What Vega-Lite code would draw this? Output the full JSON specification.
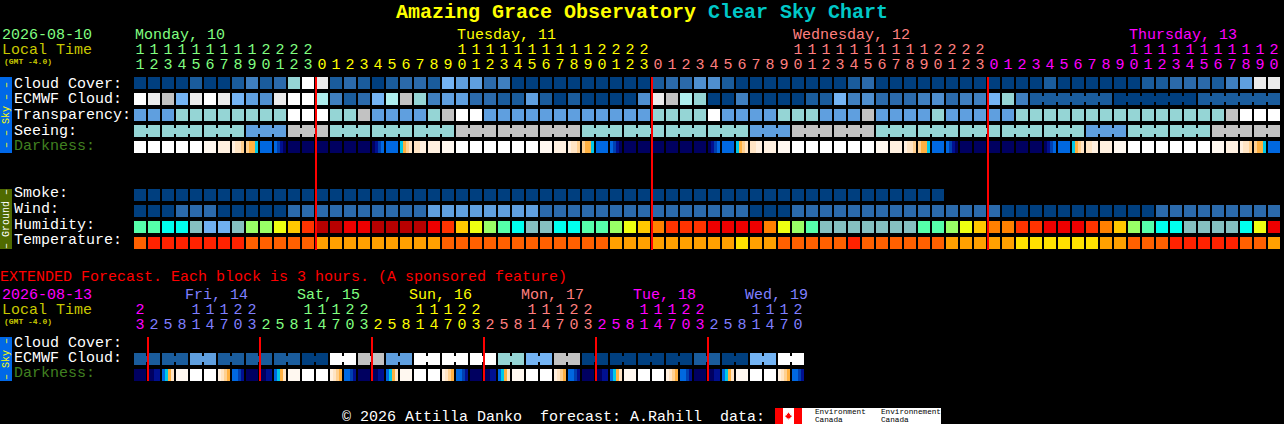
{
"$schema":"https://vega.github.io/schema/vega-lite/v6.json",
"width":1284,"height":424,"padding":0,"background":"#000000",
"autosize":{"type":"fit","contains":"padding"},
"config":{"view":{"stroke":null},"text":{"font":"Liberation Mono","fontSize":15,"align":"left","baseline":"middle"}},
"encoding":{
"x":{"field":"slot","type":"ordinal","axis":null,"scale":{"domain":[-10,-9,-8,-7,-6,-5,-4,-3,-2,-1,0,1,2,3,4,5,6,7,8,9,10,11,12,13,14,15,16,17,18,19,20,21,22,23,24,25,26,27,28,29,30,31,32,33,34,35,36,37,38,39,40,41,42,43,44,45,46,47,48,49,50,51,52,53,54,55,56,57,58,59,60,61,62,63,64,65,66,67,68,69,70,71,72,73,74,75,76,77,78,79,80,81],"range":[-6,1280],"paddingInner":0.142857,"paddingOuter":0}},
"color":{"field":"tone","type":"nominal","legend":null,"scale":{
"domain":["c0","c1","c2","c3","c4","c5","c6","c7","c8","c9","c10","c11","d0","d1","d2","d3","d4","d5","d6","d7","d8","d9","d10","hA","hB","hC","hD","hE","hF","hG","hH","hI","hJ","hK","tO","tP","tR","tY","green","yellow","salmon","magenta","violet","white","local","cyan","red","black","sky","ground","dim"],
"range":["#003f7f","#1a5c9c","#2b6aab","#3f7fbf","#4f8fcf","#5f9fdf","#74b4f4","#95d5d5","#aeeeee","#c2c2c2","#ebebeb","#ffffff","#ffffff","#fff8f0","#fff0e0","#ffe4c4","#ffd090","#ffb040","#00c8e8","#0068e0","#0040b0","#001090","#000060","#70b0f0","#85c0c0","#00ffee","#55ffaa","#99ff66","#eeff11","#ffc800","#ff8000","#ff3300","#ee0000","#b80000","#ffa000","#ff6000","#ff2200","#ffe000","#80ff80","#ffff00","#ff7f7f","#ff00ff","#7f7fff","#ffffff","#c8c800","#00c8c8","#ff0000","#000000","#0068e8","#4f6a00","#408020"]}}
},
"resolve":{"scale":{"y":"independent"}},
"layer":[
{"data":{"values":[{"slot":-10,"tone":"sky"}]},"mark":{"type":"rect","xOffset":6},"encoding":{"y":{"datum":"Sky","type":"nominal","axis":null,"scale":{"domain":["Sky"],"range":[77,153],"paddingInner":0,"paddingOuter":0}}}},
{"data":{"values":[{"slot":-10,"tone":"yellow","text":"– – Sky – –"}]},"mark":{"type":"text","xOffset":6,"angle":270,"align":"center","fontSize":10},"encoding":{"text":{"field":"text"},"y":{"datum":"Sky","type":"nominal","axis":null,"scale":{"domain":["Sky"],"range":[77,153],"paddingInner":0,"paddingOuter":0}}}},
{"data":{"values":[{"slot":-10,"tone":"ground"}]},"mark":{"type":"rect","xOffset":6},"encoding":{"y":{"datum":"Ground","type":"nominal","axis":null,"scale":{"domain":["Ground"],"range":[189,249],"paddingInner":0,"paddingOuter":0}}}},
{"data":{"values":[{"slot":-10,"tone":"white","text":"– Ground –"}]},"mark":{"type":"text","xOffset":6,"angle":270,"align":"center","fontSize":10},"encoding":{"text":{"field":"text"},"y":{"datum":"Ground","type":"nominal","axis":null,"scale":{"domain":["Ground"],"range":[189,249],"paddingInner":0,"paddingOuter":0}}}},
{"data":{"values":[{"slot":-10,"tone":"sky"}]},"mark":{"type":"rect","xOffset":6},"encoding":{"y":{"datum":"Sky","type":"nominal","axis":null,"scale":{"domain":["Sky"],"range":[337,381],"paddingInner":0,"paddingOuter":0}}}},
{"data":{"values":[{"slot":-10,"tone":"yellow","text":"– Sky –"}]},"mark":{"type":"text","xOffset":6,"angle":270,"align":"center","fontSize":10},"encoding":{"text":{"field":"text"},"y":{"datum":"Sky","type":"nominal","axis":null,"scale":{"domain":["Sky"],"range":[337,381],"paddingInner":0,"paddingOuter":0}}}},
{"data":{"values":[{"slot":18,"tone":"yellow","text":"Amazing Grace Observatory"}]},"mark":{"type":"text","fontSize":20,"fontWeight":"bold","xOffset":4},"encoding":{"text":{"field":"text"},"y":{"datum":"title","type":"nominal","axis":null,"scale":{"domain":["title"],"range":[1,23],"paddingInner":0,"paddingOuter":0}}}},
{"data":{"values":[{"slot":41,"tone":"cyan","text":"Clear Sky Chart"}]},"mark":{"type":"text","fontSize":20,"fontWeight":"bold","xOffset":-6},"encoding":{"text":{"field":"text"},"y":{"datum":"title","type":"nominal","axis":null,"scale":{"domain":["title"],"range":[1,23],"paddingInner":0,"paddingOuter":0}}}},
{"data":{"values":[{"slot":-10,"line":"date","text":"2026-08-10","tone":"green"},{"slot":-10,"line":"tens","text":"Local Time","tone":"local"}]},"mark":{"type":"text","xOffset":2,"dy":-1},"encoding":{"text":{"field":"text"},"y":{"field":"line","type":"nominal","axis":null,"scale":{"domain":["date","tens","units"],"range":[27.5,72.5],"paddingInner":0,"paddingOuter":0}}}},
{"data":{"values":[{"slot":-10,"line":"units","text":"(GMT -4.0)","tone":"local"}]},"mark":{"type":"text","xOffset":4,"dy":-3,"fontSize":8,"fontWeight":"bold"},"encoding":{"text":{"field":"text"},"y":{"field":"line","type":"nominal","axis":null,"scale":{"domain":["date","tens","units"],"range":[27.5,72.5],"paddingInner":0,"paddingOuter":0}}}},
{"data":{"values":[{"slot":0,"line":"date","text":"Monday, 10","tone":"green"},{"slot":23,"line":"date","text":"Tuesday, 11","tone":"yellow"},{"slot":47,"line":"date","text":"Wednesday, 12","tone":"salmon"},{"slot":71,"line":"date","text":"Thursday, 13","tone":"magenta"}]},"mark":{"type":"text","xOffset":-5,"dy":-1},"encoding":{"text":{"field":"text"},"y":{"field":"line","type":"nominal","axis":null,"scale":{"domain":["date","tens","units"],"range":[27.5,72.5],"paddingInner":0,"paddingOuter":0}}}},
{"data":{"name":"hours"},"transform":[{"filter":"datum.tens"}],"mark":{"type":"text","align":"center","dy":-1},"encoding":{"text":{"field":"tens"},"y":{"datum":"tens","type":"nominal","axis":null,"scale":{"domain":["date","tens","units"],"range":[27.5,72.5],"paddingInner":0,"paddingOuter":0}}}},
{"data":{"name":"hours"},"mark":{"type":"text","align":"center","dy":-1},"encoding":{"text":{"field":"units"},"y":{"datum":"units","type":"nominal","axis":null,"scale":{"domain":["date","tens","units"],"range":[27.5,72.5],"paddingInner":0,"paddingOuter":0}}}},
{"data":{"values":[{"slot":-10,"row":"Cloud","text":"Cloud Cover:","tone":"white"},{"slot":-10,"row":"ECMWF","text":"ECMWF Cloud:","tone":"white"},{"slot":-10,"row":"Transp","text":"Transparency:","tone":"white"},{"slot":-10,"row":"Seeing","text":"Seeing:","tone":"white"},{"slot":-10,"row":"Dark","text":"Darkness:","tone":"dim"},{"slot":-10,"row":"Smoke","text":"Smoke:","tone":"white"},{"slot":-10,"row":"Wind","text":"Wind:","tone":"white"},{"slot":-10,"row":"Humid","text":"Humidity:","tone":"white"},{"slot":-10,"row":"Temp","text":"Temperature:","tone":"white"}]},"mark":{"type":"text","xOffset":14,"dy":-2},"encoding":{"text":{"field":"text"},"y":{"field":"row","type":"nominal","axis":null,"scale":{"domain":["Cloud","ECMWF","Transp","Seeing","Dark","gap1","gap2","Smoke","Wind","Humid","Temp"],"range":[77,249],"paddingInner":0.25,"paddingOuter":0}}}},
{"data":{"name":"cells"},"mark":"rect","encoding":{"y":{"field":"row","type":"nominal","axis":null,"scale":{"domain":["Cloud","ECMWF","Transp","Seeing","Dark","gap1","gap2","Smoke","Wind","Humid","Temp"],"range":[77,249],"paddingInner":0.25,"paddingOuter":0}}}},
{"data":{"name":"cells"},"transform":[{"filter":"datum.joined"}],"mark":{"type":"rect","width":2,"height":6,"xOffset":7},"encoding":{"y":{"field":"row","type":"nominal","axis":null,"scale":{"domain":["Cloud","ECMWF","Transp","Seeing","Dark","gap1","gap2","Smoke","Wind","Humid","Temp"],"range":[77,249],"paddingInner":0.25,"paddingOuter":0}}}},
{"data":{"name":"strips"},"mark":"rect","encoding":{"xOffset":{"field":"part","type":"ordinal","scale":{"paddingInner":0,"paddingOuter":0}},"y":{"datum":"Dark","type":"nominal","axis":null,"scale":{"domain":["Cloud","ECMWF","Transp","Seeing","Dark","gap1","gap2","Smoke","Wind","Humid","Temp"],"range":[77,249],"paddingInner":0.25,"paddingOuter":0}}}},
{"data":{"values":[{"slot":13,"tone":"red"},{"slot":37,"tone":"red"},{"slot":61,"tone":"red"}]},"mark":{"type":"rule","strokeWidth":2,"xOffset":-6},"encoding":{"y":{"datum":0,"type":"quantitative","axis":null,"scale":{"domain":[0,1],"range":[77,250]}},"y2":{"datum":1}}},
{"data":{"values":[{"slot":-10,"line":"note","text":"EXTENDED Forecast. Each block is 3 hours. (A sponsored feature)","tone":"red"}]},"mark":{"type":"text","dy":-4},"encoding":{"text":{"field":"text"},"y":{"field":"line","type":"nominal","axis":null,"scale":{"domain":["note","date","tens","units"],"range":[272.5,332.5],"paddingInner":0,"paddingOuter":0}}}},
{"data":{"values":[{"slot":-10,"line":"date","text":"2026-08-13","tone":"magenta"},{"slot":-10,"line":"tens","text":"Local Time","tone":"local"}]},"mark":{"type":"text","xOffset":2,"dy":-1},"encoding":{"text":{"field":"text"},"y":{"field":"line","type":"nominal","axis":null,"scale":{"domain":["note","date","tens","units"],"range":[272.5,332.5],"paddingInner":0,"paddingOuter":0}}}},
{"data":{"values":[{"slot":-10,"line":"units","text":"(GMT -4.0)","tone":"local"}]},"mark":{"type":"text","xOffset":4,"dy":-3,"fontSize":8,"fontWeight":"bold"},"encoding":{"text":{"field":"text"},"y":{"field":"line","type":"nominal","axis":null,"scale":{"domain":["note","date","tens","units"],"range":[272.5,332.5],"paddingInner":0,"paddingOuter":0}}}},
{"data":{"values":[{"slot":4,"line":"date","text":"Fri, 14","tone":"violet"},{"slot":12,"line":"date","text":"Sat, 15","tone":"green"},{"slot":20,"line":"date","text":"Sun, 16","tone":"yellow"},{"slot":28,"line":"date","text":"Mon, 17","tone":"salmon"},{"slot":36,"line":"date","text":"Tue, 18","tone":"magenta"},{"slot":44,"line":"date","text":"Wed, 19","tone":"violet"}]},"mark":{"type":"text","xOffset":-11,"dy":-1},"encoding":{"text":{"field":"text"},"y":{"field":"line","type":"nominal","axis":null,"scale":{"domain":["note","date","tens","units"],"range":[272.5,332.5],"paddingInner":0,"paddingOuter":0}}}},
{"data":{"name":"extHours"},"transform":[{"filter":"datum.tens"}],"mark":{"type":"text","align":"center","dy":-1},"encoding":{"text":{"field":"tens"},"y":{"datum":"tens","type":"nominal","axis":null,"scale":{"domain":["note","date","tens","units"],"range":[272.5,332.5],"paddingInner":0,"paddingOuter":0}}}},
{"data":{"name":"extHours"},"mark":{"type":"text","align":"center","dy":-1},"encoding":{"text":{"field":"units"},"y":{"datum":"units","type":"nominal","axis":null,"scale":{"domain":["note","date","tens","units"],"range":[272.5,332.5],"paddingInner":0,"paddingOuter":0}}}},
{"data":{"values":[{"slot":-10,"row":"Cloud","text":"Cloud Cover:","tone":"white"},{"slot":-10,"row":"ECMWF","text":"ECMWF Cloud:","tone":"white"},{"slot":-10,"row":"Dark","text":"Darkness:","tone":"dim"}]},"mark":{"type":"text","xOffset":14,"dy":-2},"encoding":{"text":{"field":"text"},"y":{"field":"row","type":"nominal","axis":null,"scale":{"domain":["Cloud","ECMWF","Dark"],"range":[337,381],"paddingInner":0.25,"paddingOuter":0}}}},
{"data":{"name":"extCells"},"mark":"rect","encoding":{"y":{"field":"row","type":"nominal","axis":null,"scale":{"domain":["Cloud","ECMWF","Dark"],"range":[337,381],"paddingInner":0.25,"paddingOuter":0}}}},
{"data":{"name":"extCells"},"transform":[{"filter":"datum.joined"}],"mark":{"type":"rect","width":2,"height":6,"xOffset":7},"encoding":{"y":{"field":"row","type":"nominal","axis":null,"scale":{"domain":["Cloud","ECMWF","Dark"],"range":[337,381],"paddingInner":0.25,"paddingOuter":0}}}},
{"data":{"name":"extStrips"},"mark":"rect","encoding":{"xOffset":{"field":"part","type":"ordinal","scale":{"paddingInner":0,"paddingOuter":0}},"y":{"datum":"Dark","type":"nominal","axis":null,"scale":{"domain":["Cloud","ECMWF","Dark"],"range":[337,381],"paddingInner":0.25,"paddingOuter":0}}}},
{"data":{"values":[{"slot":1,"tone":"red"},{"slot":9,"tone":"red"},{"slot":17,"tone":"red"},{"slot":25,"tone":"red"},{"slot":33,"tone":"red"},{"slot":41,"tone":"red"}]},"mark":{"type":"rule","strokeWidth":2,"xOffset":-6},"encoding":{"y":{"datum":0,"type":"quantitative","axis":null,"scale":{"domain":[0,1],"range":[337,381]}},"y2":{"datum":1}}},
{"data":{"values":[{"slot":14,"text":"© 2026 Attilla Danko\u00a0\u00a0forecast: A.Rahill\u00a0\u00a0data:","tone":"white"}]},"mark":{"type":"text","xOffset":6},"encoding":{"text":{"field":"text"},"y":{"datum":"footer","type":"nominal","axis":null,"scale":{"domain":["footer"],"range":[408,424],"paddingInner":0,"paddingOuter":0}}}},
{"data":{"values":[{"slot":51,"tone":"white"}]},"mark":{"type":"rect","width":166,"xOffset":4},"encoding":{"y":{"datum":"footer","type":"nominal","axis":null,"scale":{"domain":["footer"],"range":[408,424],"paddingInner":0,"paddingOuter":0}}}},
{"data":{"values":[{"slot":46,"tone":"red"}]},"mark":{"type":"rect","width":8,"xOffset":-5},"encoding":{"y":{"datum":"footer","type":"nominal","axis":null,"scale":{"domain":["footer"],"range":[408,424],"paddingInner":0,"paddingOuter":0}}}},
{"data":{"values":[{"slot":47,"tone":"red"}]},"mark":{"type":"rect","width":8},"encoding":{"y":{"datum":"footer","type":"nominal","axis":null,"scale":{"domain":["footer"],"range":[408,424],"paddingInner":0,"paddingOuter":0}}}},
{"data":{"values":[{"slot":46,"tone":"red"}]},"mark":{"type":"point","filled":true,"opacity":1,"xOffset":4.5,"size":60,"shape":"M0,-1 L0.2,-0.5 L0.45,-0.65 L0.35,-0.15 L0.8,-0.3 L0.65,0 L0.9,0.15 L0.4,0.45 L0.45,0.65 L0.05,0.55 L0.05,1 L-0.05,1 L-0.05,0.55 L-0.45,0.65 L-0.4,0.45 L-0.9,0.15 L-0.65,0 L-0.8,-0.3 L-0.35,-0.15 L-0.45,-0.65 L-0.2,-0.5 Z"},"encoding":{"y":{"datum":"footer","type":"nominal","axis":null,"scale":{"domain":["footer"],"range":[408,424],"paddingInner":0,"paddingOuter":0}}}},
{"data":{"values":[{"slot":48,"line":"a","text":"Environment","tone":"black"},{"slot":48,"line":"b","text":"Canada","tone":"black"}]},"mark":{"type":"text","xOffset":3,"fontSize":7.7},"encoding":{"text":{"field":"text"},"y":{"field":"line","type":"nominal","axis":null,"scale":{"domain":["a","b"],"range":[408,424],"paddingInner":0,"paddingOuter":0}}}},
{"data":{"values":[{"slot":53,"line":"a","text":"Environnement","tone":"black"},{"slot":53,"line":"b","text":"Canada","tone":"black"}]},"mark":{"type":"text","xOffset":-1,"fontSize":7.7},"encoding":{"text":{"field":"text"},"y":{"field":"line","type":"nominal","axis":null,"scale":{"domain":["a","b"],"range":[408,424],"paddingInner":0,"paddingOuter":0}}}}
],
"datasets":{
"hours":[
{"slot":0,"tens":"1","units":"1","tone":"green"},{"slot":1,"tens":"1","units":"2","tone":"green"},{"slot":2,"tens":"1","units":"3","tone":"green"},{"slot":3,"tens":"1","units":"4","tone":"green"},{"slot":4,"tens":"1","units":"5","tone":"green"},{"slot":5,"tens":"1","units":"6","tone":"green"},{"slot":6,"tens":"1","units":"7","tone":"green"},{"slot":7,"tens":"1","units":"8","tone":"green"},{"slot":8,"tens":"1","units":"9","tone":"green"},{"slot":9,"tens":"2","units":"0","tone":"green"},{"slot":10,"tens":"2","units":"1","tone":"green"},{"slot":11,"tens":"2","units":"2","tone":"green"},{"slot":12,"tens":"2","units":"3","tone":"green"},
{"slot":13,"units":"0","tone":"yellow"},{"slot":14,"units":"1","tone":"yellow"},{"slot":15,"units":"2","tone":"yellow"},{"slot":16,"units":"3","tone":"yellow"},{"slot":17,"units":"4","tone":"yellow"},{"slot":18,"units":"5","tone":"yellow"},{"slot":19,"units":"6","tone":"yellow"},{"slot":20,"units":"7","tone":"yellow"},{"slot":21,"units":"8","tone":"yellow"},{"slot":22,"units":"9","tone":"yellow"},{"slot":23,"tens":"1","units":"0","tone":"yellow"},{"slot":24,"tens":"1","units":"1","tone":"yellow"},{"slot":25,"tens":"1","units":"2","tone":"yellow"},{"slot":26,"tens":"1","units":"3","tone":"yellow"},{"slot":27,"tens":"1","units":"4","tone":"yellow"},{"slot":28,"tens":"1","units":"5","tone":"yellow"},{"slot":29,"tens":"1","units":"6","tone":"yellow"},{"slot":30,"tens":"1","units":"7","tone":"yellow"},{"slot":31,"tens":"1","units":"8","tone":"yellow"},{"slot":32,"tens":"1","units":"9","tone":"yellow"},{"slot":33,"tens":"2","units":"0","tone":"yellow"},{"slot":34,"tens":"2","units":"1","tone":"yellow"},{"slot":35,"tens":"2","units":"2","tone":"yellow"},{"slot":36,"tens":"2","units":"3","tone":"yellow"},
{"slot":37,"units":"0","tone":"salmon"},{"slot":38,"units":"1","tone":"salmon"},{"slot":39,"units":"2","tone":"salmon"},{"slot":40,"units":"3","tone":"salmon"},{"slot":41,"units":"4","tone":"salmon"},{"slot":42,"units":"5","tone":"salmon"},{"slot":43,"units":"6","tone":"salmon"},{"slot":44,"units":"7","tone":"salmon"},{"slot":45,"units":"8","tone":"salmon"},{"slot":46,"units":"9","tone":"salmon"},{"slot":47,"tens":"1","units":"0","tone":"salmon"},{"slot":48,"tens":"1","units":"1","tone":"salmon"},{"slot":49,"tens":"1","units":"2","tone":"salmon"},{"slot":50,"tens":"1","units":"3","tone":"salmon"},{"slot":51,"tens":"1","units":"4","tone":"salmon"},{"slot":52,"tens":"1","units":"5","tone":"salmon"},{"slot":53,"tens":"1","units":"6","tone":"salmon"},{"slot":54,"tens":"1","units":"7","tone":"salmon"},{"slot":55,"tens":"1","units":"8","tone":"salmon"},{"slot":56,"tens":"1","units":"9","tone":"salmon"},{"slot":57,"tens":"2","units":"0","tone":"salmon"},{"slot":58,"tens":"2","units":"1","tone":"salmon"},{"slot":59,"tens":"2","units":"2","tone":"salmon"},{"slot":60,"tens":"2","units":"3","tone":"salmon"},
{"slot":61,"units":"0","tone":"magenta"},{"slot":62,"units":"1","tone":"magenta"},{"slot":63,"units":"2","tone":"magenta"},{"slot":64,"units":"3","tone":"magenta"},{"slot":65,"units":"4","tone":"magenta"},{"slot":66,"units":"5","tone":"magenta"},{"slot":67,"units":"6","tone":"magenta"},{"slot":68,"units":"7","tone":"magenta"},{"slot":69,"units":"8","tone":"magenta"},{"slot":70,"units":"9","tone":"magenta"},{"slot":71,"tens":"1","units":"0","tone":"magenta"},{"slot":72,"tens":"1","units":"1","tone":"magenta"},{"slot":73,"tens":"1","units":"2","tone":"magenta"},{"slot":74,"tens":"1","units":"3","tone":"magenta"},{"slot":75,"tens":"1","units":"4","tone":"magenta"},{"slot":76,"tens":"1","units":"5","tone":"magenta"},{"slot":77,"tens":"1","units":"6","tone":"magenta"},{"slot":78,"tens":"1","units":"7","tone":"magenta"},{"slot":79,"tens":"1","units":"8","tone":"magenta"},{"slot":80,"tens":"1","units":"9","tone":"magenta"},{"slot":81,"tens":"2","units":"0","tone":"magenta"}
],
"extHours":[
{"slot":0,"tens":"2","units":"3","tone":"magenta"},
{"slot":1,"units":"2","tone":"violet"},{"slot":2,"units":"5","tone":"violet"},{"slot":3,"units":"8","tone":"violet"},{"slot":4,"tens":"1","units":"1","tone":"violet"},{"slot":5,"tens":"1","units":"4","tone":"violet"},{"slot":6,"tens":"1","units":"7","tone":"violet"},{"slot":7,"tens":"2","units":"0","tone":"violet"},{"slot":8,"tens":"2","units":"3","tone":"violet"},
{"slot":9,"units":"2","tone":"green"},{"slot":10,"units":"5","tone":"green"},{"slot":11,"units":"8","tone":"green"},{"slot":12,"tens":"1","units":"1","tone":"green"},{"slot":13,"tens":"1","units":"4","tone":"green"},{"slot":14,"tens":"1","units":"7","tone":"green"},{"slot":15,"tens":"2","units":"0","tone":"green"},{"slot":16,"tens":"2","units":"3","tone":"green"},
{"slot":17,"units":"2","tone":"yellow"},{"slot":18,"units":"5","tone":"yellow"},{"slot":19,"units":"8","tone":"yellow"},{"slot":20,"tens":"1","units":"1","tone":"yellow"},{"slot":21,"tens":"1","units":"4","tone":"yellow"},{"slot":22,"tens":"1","units":"7","tone":"yellow"},{"slot":23,"tens":"2","units":"0","tone":"yellow"},{"slot":24,"tens":"2","units":"3","tone":"yellow"},
{"slot":25,"units":"2","tone":"salmon"},{"slot":26,"units":"5","tone":"salmon"},{"slot":27,"units":"8","tone":"salmon"},{"slot":28,"tens":"1","units":"1","tone":"salmon"},{"slot":29,"tens":"1","units":"4","tone":"salmon"},{"slot":30,"tens":"1","units":"7","tone":"salmon"},{"slot":31,"tens":"2","units":"0","tone":"salmon"},{"slot":32,"tens":"2","units":"3","tone":"salmon"},
{"slot":33,"units":"2","tone":"magenta"},{"slot":34,"units":"5","tone":"magenta"},{"slot":35,"units":"8","tone":"magenta"},{"slot":36,"tens":"1","units":"1","tone":"magenta"},{"slot":37,"tens":"1","units":"4","tone":"magenta"},{"slot":38,"tens":"1","units":"7","tone":"magenta"},{"slot":39,"tens":"2","units":"0","tone":"magenta"},{"slot":40,"tens":"2","units":"3","tone":"magenta"},
{"slot":41,"units":"2","tone":"violet"},{"slot":42,"units":"5","tone":"violet"},{"slot":43,"units":"8","tone":"violet"},{"slot":44,"tens":"1","units":"1","tone":"violet"},{"slot":45,"tens":"1","units":"4","tone":"violet"},{"slot":46,"tens":"1","units":"7","tone":"violet"},{"slot":47,"tens":"2","units":"0","tone":"violet"}
],
"cells":[
{"row":"Cloud","slot":0,"tone":"c0"},{"row":"Cloud","slot":1,"tone":"c0"},{"row":"Cloud","slot":2,"tone":"c0"},{"row":"Cloud","slot":3,"tone":"c0"},{"row":"Cloud","slot":4,"tone":"c1"},{"row":"Cloud","slot":5,"tone":"c0"},{"row":"Cloud","slot":6,"tone":"c0"},{"row":"Cloud","slot":7,"tone":"c1"},{"row":"Cloud","slot":8,"tone":"c3"},{"row":"Cloud","slot":9,"tone":"c1"},{"row":"Cloud","slot":10,"tone":"c2"},{"row":"Cloud","slot":11,"tone":"c7"},{"row":"Cloud","slot":12,"tone":"c11"},{"row":"Cloud","slot":13,"tone":"c10"},{"row":"Cloud","slot":14,"tone":"c1"},{"row":"Cloud","slot":15,"tone":"c2"},{"row":"Cloud","slot":16,"tone":"c1"},{"row":"Cloud","slot":17,"tone":"c0"},{"row":"Cloud","slot":18,"tone":"c1"},{"row":"Cloud","slot":19,"tone":"c2"},{"row":"Cloud","slot":20,"tone":"c2"},{"row":"Cloud","slot":21,"tone":"c1"},{"row":"Cloud","slot":22,"tone":"c6"},{"row":"Cloud","slot":23,"tone":"c5"},{"row":"Cloud","slot":24,"tone":"c5"},{"row":"Cloud","slot":25,"tone":"c2"},{"row":"Cloud","slot":26,"tone":"c3"},{"row":"Cloud","slot":27,"tone":"c0"},{"row":"Cloud","slot":28,"tone":"c0"},{"row":"Cloud","slot":29,"tone":"c0"},{"row":"Cloud","slot":30,"tone":"c0"},{"row":"Cloud","slot":31,"tone":"c0"},{"row":"Cloud","slot":32,"tone":"c0"},{"row":"Cloud","slot":33,"tone":"c0"},{"row":"Cloud","slot":34,"tone":"c0"},{"row":"Cloud","slot":35,"tone":"c0"},{"row":"Cloud","slot":36,"tone":"c0"},{"row":"Cloud","slot":37,"tone":"c1"},{"row":"Cloud","slot":38,"tone":"c2"},{"row":"Cloud","slot":39,"tone":"c2"},{"row":"Cloud","slot":40,"tone":"c4"},{"row":"Cloud","slot":41,"tone":"c4"},{"row":"Cloud","slot":42,"tone":"c1"},{"row":"Cloud","slot":43,"tone":"c0"},{"row":"Cloud","slot":44,"tone":"c0"},{"row":"Cloud","slot":45,"tone":"c0"},{"row":"Cloud","slot":46,"tone":"c0"},{"row":"Cloud","slot":47,"tone":"c0"},{"row":"Cloud","slot":48,"tone":"c0"},{"row":"Cloud","slot":49,"tone":"c0"},{"row":"Cloud","slot":50,"tone":"c0"},{"row":"Cloud","slot":51,"tone":"c1"},{"row":"Cloud","slot":52,"tone":"c2"},{"row":"Cloud","slot":53,"tone":"c0"},{"row":"Cloud","slot":54,"tone":"c0"},{"row":"Cloud","slot":55,"tone":"c0"},{"row":"Cloud","slot":56,"tone":"c0"},{"row":"Cloud","slot":57,"tone":"c0"},{"row":"Cloud","slot":58,"tone":"c0"},{"row":"Cloud","slot":59,"tone":"c0"},{"row":"Cloud","slot":60,"tone":"c0"},{"row":"Cloud","slot":61,"tone":"c0"},{"row":"Cloud","slot":62,"tone":"c0"},{"row":"Cloud","slot":63,"tone":"c0"},{"row":"Cloud","slot":64,"tone":"c0"},{"row":"Cloud","slot":65,"tone":"c1"},{"row":"Cloud","slot":66,"tone":"c0"},{"row":"Cloud","slot":67,"tone":"c0"},{"row":"Cloud","slot":68,"tone":"c0"},{"row":"Cloud","slot":69,"tone":"c0"},{"row":"Cloud","slot":70,"tone":"c0"},{"row":"Cloud","slot":71,"tone":"c0"},{"row":"Cloud","slot":72,"tone":"c1"},{"row":"Cloud","slot":73,"tone":"c1"},{"row":"Cloud","slot":74,"tone":"c2"},{"row":"Cloud","slot":75,"tone":"c2"},{"row":"Cloud","slot":76,"tone":"c2"},{"row":"Cloud","slot":77,"tone":"c1"},{"row":"Cloud","slot":78,"tone":"c3"},{"row":"Cloud","slot":79,"tone":"c5"},{"row":"Cloud","slot":80,"tone":"c10"},{"row":"Cloud","slot":81,"tone":"c10"},
{"row":"ECMWF","slot":0,"tone":"c11"},{"row":"ECMWF","slot":1,"tone":"c10"},{"row":"ECMWF","slot":2,"tone":"c9"},{"row":"ECMWF","slot":3,"tone":"c6"},{"row":"ECMWF","slot":4,"tone":"c10"},{"row":"ECMWF","slot":5,"tone":"c11"},{"row":"ECMWF","slot":6,"tone":"c10"},{"row":"ECMWF","slot":7,"tone":"c6"},{"row":"ECMWF","slot":8,"tone":"c5"},{"row":"ECMWF","slot":9,"tone":"c4"},{"row":"ECMWF","slot":10,"tone":"c10"},{"row":"ECMWF","slot":11,"tone":"c11"},{"row":"ECMWF","slot":12,"tone":"c11"},{"row":"ECMWF","slot":13,"tone":"c8"},{"row":"ECMWF","slot":14,"tone":"c3"},{"row":"ECMWF","slot":15,"tone":"c1"},{"row":"ECMWF","slot":16,"tone":"c2"},{"row":"ECMWF","slot":17,"tone":"c6"},{"row":"ECMWF","slot":18,"tone":"c8"},{"row":"ECMWF","slot":19,"tone":"c9"},{"row":"ECMWF","slot":20,"tone":"c7"},{"row":"ECMWF","slot":21,"tone":"c3"},{"row":"ECMWF","slot":22,"tone":"c5"},{"row":"ECMWF","slot":23,"tone":"c5"},{"row":"ECMWF","slot":24,"tone":"c2"},{"row":"ECMWF","slot":25,"tone":"c2"},{"row":"ECMWF","slot":26,"tone":"c1"},{"row":"ECMWF","slot":27,"tone":"c1"},{"row":"ECMWF","slot":28,"tone":"c5"},{"row":"ECMWF","slot":29,"tone":"c1"},{"row":"ECMWF","slot":30,"tone":"c0"},{"row":"ECMWF","slot":31,"tone":"c1"},{"row":"ECMWF","slot":32,"tone":"c0"},{"row":"ECMWF","slot":33,"tone":"c0"},{"row":"ECMWF","slot":34,"tone":"c0"},{"row":"ECMWF","slot":35,"tone":"c0"},{"row":"ECMWF","slot":36,"tone":"c4"},{"row":"ECMWF","slot":37,"tone":"c10"},{"row":"ECMWF","slot":38,"tone":"c9"},{"row":"ECMWF","slot":39,"tone":"c8"},{"row":"ECMWF","slot":40,"tone":"c7"},{"row":"ECMWF","slot":41,"tone":"c0"},{"row":"ECMWF","slot":42,"tone":"c0"},{"row":"ECMWF","slot":43,"tone":"c3"},{"row":"ECMWF","slot":44,"tone":"c0"},{"row":"ECMWF","slot":45,"tone":"c0"},{"row":"ECMWF","slot":46,"tone":"c0"},{"row":"ECMWF","slot":47,"tone":"c0"},{"row":"ECMWF","slot":48,"tone":"c1"},{"row":"ECMWF","slot":49,"tone":"c1"},{"row":"ECMWF","slot":50,"tone":"c6"},{"row":"ECMWF","slot":51,"tone":"c3"},{"row":"ECMWF","slot":52,"tone":"c4"},{"row":"ECMWF","slot":53,"tone":"c2"},{"row":"ECMWF","slot":54,"tone":"c2"},{"row":"ECMWF","slot":55,"tone":"c2"},{"row":"ECMWF","slot":56,"tone":"c3"},{"row":"ECMWF","slot":57,"tone":"c4"},{"row":"ECMWF","slot":58,"tone":"c2"},{"row":"ECMWF","slot":59,"tone":"c3"},{"row":"ECMWF","slot":60,"tone":"c3"},{"row":"ECMWF","slot":61,"tone":"c6"},{"row":"ECMWF","slot":62,"tone":"c7"},{"row":"ECMWF","slot":63,"tone":"c3"},
{"row":"ECMWF","slot":64,"tone":"c1","joined":true},{"row":"ECMWF","slot":65,"tone":"c1","joined":true},{"row":"ECMWF","slot":66,"tone":"c1","joined":true},{"row":"ECMWF","slot":67,"tone":"c1","joined":true},{"row":"ECMWF","slot":68,"tone":"c1","joined":true},{"row":"ECMWF","slot":69,"tone":"c1"},{"row":"ECMWF","slot":70,"tone":"c0","joined":true},{"row":"ECMWF","slot":71,"tone":"c0","joined":true},{"row":"ECMWF","slot":72,"tone":"c0","joined":true},{"row":"ECMWF","slot":73,"tone":"c0","joined":true},{"row":"ECMWF","slot":74,"tone":"c0","joined":true},{"row":"ECMWF","slot":75,"tone":"c0"},{"row":"ECMWF","slot":76,"tone":"c1","joined":true},{"row":"ECMWF","slot":77,"tone":"c1","joined":true},{"row":"ECMWF","slot":78,"tone":"c1","joined":true},{"row":"ECMWF","slot":79,"tone":"c1","joined":true},{"row":"ECMWF","slot":80,"tone":"c1","joined":true},{"row":"ECMWF","slot":81,"tone":"c1"},
{"row":"Transp","slot":0,"tone":"c5"},{"row":"Transp","slot":1,"tone":"c5"},{"row":"Transp","slot":2,"tone":"c5"},{"row":"Transp","slot":3,"tone":"c7"},{"row":"Transp","slot":4,"tone":"c7"},{"row":"Transp","slot":5,"tone":"c7"},{"row":"Transp","slot":6,"tone":"c7"},{"row":"Transp","slot":7,"tone":"c7"},{"row":"Transp","slot":8,"tone":"c7"},{"row":"Transp","slot":9,"tone":"c7"},{"row":"Transp","slot":10,"tone":"c7"},{"row":"Transp","slot":11,"tone":"c11"},{"row":"Transp","slot":12,"tone":"c11"},{"row":"Transp","slot":13,"tone":"c11"},{"row":"Transp","slot":14,"tone":"c7"},{"row":"Transp","slot":15,"tone":"c7"},{"row":"Transp","slot":16,"tone":"c9"},{"row":"Transp","slot":17,"tone":"c5"},{"row":"Transp","slot":18,"tone":"c5"},{"row":"Transp","slot":19,"tone":"c5"},{"row":"Transp","slot":20,"tone":"c5"},{"row":"Transp","slot":21,"tone":"c7"},{"row":"Transp","slot":22,"tone":"c9"},{"row":"Transp","slot":23,"tone":"c11"},{"row":"Transp","slot":24,"tone":"c11"},{"row":"Transp","slot":25,"tone":"c5"},{"row":"Transp","slot":26,"tone":"c5"},{"row":"Transp","slot":27,"tone":"c5"},{"row":"Transp","slot":28,"tone":"c5"},{"row":"Transp","slot":29,"tone":"c5"},{"row":"Transp","slot":30,"tone":"c5"},{"row":"Transp","slot":31,"tone":"c5"},{"row":"Transp","slot":32,"tone":"c5"},{"row":"Transp","slot":33,"tone":"c5"},{"row":"Transp","slot":34,"tone":"c5"},{"row":"Transp","slot":35,"tone":"c5"},{"row":"Transp","slot":36,"tone":"c5"},{"row":"Transp","slot":37,"tone":"c7"},{"row":"Transp","slot":38,"tone":"c7"},{"row":"Transp","slot":39,"tone":"c7"},{"row":"Transp","slot":40,"tone":"c7"},{"row":"Transp","slot":41,"tone":"c11"},{"row":"Transp","slot":42,"tone":"c5"},{"row":"Transp","slot":43,"tone":"c5"},{"row":"Transp","slot":44,"tone":"c5"},{"row":"Transp","slot":45,"tone":"c5"},{"row":"Transp","slot":46,"tone":"c7"},{"row":"Transp","slot":47,"tone":"c7"},{"row":"Transp","slot":48,"tone":"c7"},{"row":"Transp","slot":49,"tone":"c5"},{"row":"Transp","slot":50,"tone":"c5"},{"row":"Transp","slot":51,"tone":"c5"},{"row":"Transp","slot":52,"tone":"c9"},{"row":"Transp","slot":53,"tone":"c5"},{"row":"Transp","slot":54,"tone":"c5"},{"row":"Transp","slot":55,"tone":"c5"},{"row":"Transp","slot":56,"tone":"c5"},{"row":"Transp","slot":57,"tone":"c7"},{"row":"Transp","slot":58,"tone":"c5"},{"row":"Transp","slot":59,"tone":"c5"},{"row":"Transp","slot":60,"tone":"c5"},{"row":"Transp","slot":61,"tone":"c5"},{"row":"Transp","slot":62,"tone":"c5"},{"row":"Transp","slot":63,"tone":"c7"},{"row":"Transp","slot":64,"tone":"c7"},{"row":"Transp","slot":65,"tone":"c7"},{"row":"Transp","slot":66,"tone":"c7"},{"row":"Transp","slot":67,"tone":"c7"},{"row":"Transp","slot":68,"tone":"c7"},{"row":"Transp","slot":69,"tone":"c7"},{"row":"Transp","slot":70,"tone":"c7"},{"row":"Transp","slot":71,"tone":"c7"},{"row":"Transp","slot":72,"tone":"c7"},{"row":"Transp","slot":73,"tone":"c7"},{"row":"Transp","slot":74,"tone":"c7"},{"row":"Transp","slot":75,"tone":"c7"},{"row":"Transp","slot":76,"tone":"c7"},{"row":"Transp","slot":77,"tone":"c7"},{"row":"Transp","slot":78,"tone":"c9"},{"row":"Transp","slot":79,"tone":"c11"},{"row":"Transp","slot":80,"tone":"c11"},{"row":"Transp","slot":81,"tone":"c11"},
{"row":"Seeing","slot":0,"tone":"c7","joined":true},{"row":"Seeing","slot":1,"tone":"c7"},{"row":"Seeing","slot":2,"tone":"c7","joined":true},{"row":"Seeing","slot":3,"tone":"c7","joined":true},{"row":"Seeing","slot":4,"tone":"c7"},{"row":"Seeing","slot":5,"tone":"c7","joined":true},{"row":"Seeing","slot":6,"tone":"c7","joined":true},{"row":"Seeing","slot":7,"tone":"c7"},{"row":"Seeing","slot":8,"tone":"c5","joined":true},{"row":"Seeing","slot":9,"tone":"c5","joined":true},{"row":"Seeing","slot":10,"tone":"c5"},{"row":"Seeing","slot":11,"tone":"c9","joined":true},{"row":"Seeing","slot":12,"tone":"c9","joined":true},{"row":"Seeing","slot":13,"tone":"c9"},{"row":"Seeing","slot":14,"tone":"c7","joined":true},{"row":"Seeing","slot":15,"tone":"c7","joined":true},{"row":"Seeing","slot":16,"tone":"c7"},{"row":"Seeing","slot":17,"tone":"c7","joined":true},{"row":"Seeing","slot":18,"tone":"c7","joined":true},{"row":"Seeing","slot":19,"tone":"c7"},{"row":"Seeing","slot":20,"tone":"c7","joined":true},{"row":"Seeing","slot":21,"tone":"c7","joined":true},{"row":"Seeing","slot":22,"tone":"c7"},{"row":"Seeing","slot":23,"tone":"c9","joined":true},{"row":"Seeing","slot":24,"tone":"c9","joined":true},{"row":"Seeing","slot":25,"tone":"c9"},{"row":"Seeing","slot":26,"tone":"c9","joined":true},{"row":"Seeing","slot":27,"tone":"c9","joined":true},{"row":"Seeing","slot":28,"tone":"c9"},{"row":"Seeing","slot":29,"tone":"c9","joined":true},{"row":"Seeing","slot":30,"tone":"c9","joined":true},{"row":"Seeing","slot":31,"tone":"c9"},{"row":"Seeing","slot":32,"tone":"c7","joined":true},{"row":"Seeing","slot":33,"tone":"c7","joined":true},{"row":"Seeing","slot":34,"tone":"c7"},{"row":"Seeing","slot":35,"tone":"c7","joined":true},{"row":"Seeing","slot":36,"tone":"c7","joined":true},{"row":"Seeing","slot":37,"tone":"c7"},{"row":"Seeing","slot":38,"tone":"c7","joined":true},{"row":"Seeing","slot":39,"tone":"c7","joined":true},{"row":"Seeing","slot":40,"tone":"c7"},{"row":"Seeing","slot":41,"tone":"c7","joined":true},{"row":"Seeing","slot":42,"tone":"c7","joined":true},{"row":"Seeing","slot":43,"tone":"c7"},{"row":"Seeing","slot":44,"tone":"c5","joined":true},{"row":"Seeing","slot":45,"tone":"c5","joined":true},{"row":"Seeing","slot":46,"tone":"c5"},{"row":"Seeing","slot":47,"tone":"c9","joined":true},{"row":"Seeing","slot":48,"tone":"c9","joined":true},{"row":"Seeing","slot":49,"tone":"c9"},{"row":"Seeing","slot":50,"tone":"c9","joined":true},{"row":"Seeing","slot":51,"tone":"c9","joined":true},{"row":"Seeing","slot":52,"tone":"c9"},{"row":"Seeing","slot":53,"tone":"c7","joined":true},{"row":"Seeing","slot":54,"tone":"c7","joined":true},{"row":"Seeing","slot":55,"tone":"c7"},{"row":"Seeing","slot":56,"tone":"c7","joined":true},{"row":"Seeing","slot":57,"tone":"c7","joined":true},{"row":"Seeing","slot":58,"tone":"c7"},{"row":"Seeing","slot":59,"tone":"c7","joined":true},{"row":"Seeing","slot":60,"tone":"c7","joined":true},{"row":"Seeing","slot":61,"tone":"c7"},{"row":"Seeing","slot":62,"tone":"c7","joined":true},{"row":"Seeing","slot":63,"tone":"c7","joined":true},{"row":"Seeing","slot":64,"tone":"c7"},{"row":"Seeing","slot":65,"tone":"c7","joined":true},{"row":"Seeing","slot":66,"tone":"c7","joined":true},{"row":"Seeing","slot":67,"tone":"c7"},{"row":"Seeing","slot":68,"tone":"c5","joined":true},{"row":"Seeing","slot":69,"tone":"c5","joined":true},{"row":"Seeing","slot":70,"tone":"c5"},{"row":"Seeing","slot":71,"tone":"c7","joined":true},{"row":"Seeing","slot":72,"tone":"c7","joined":true},{"row":"Seeing","slot":73,"tone":"c7"},{"row":"Seeing","slot":74,"tone":"c7","joined":true},{"row":"Seeing","slot":75,"tone":"c7","joined":true},{"row":"Seeing","slot":76,"tone":"c7"},{"row":"Seeing","slot":77,"tone":"c9","joined":true},{"row":"Seeing","slot":78,"tone":"c9","joined":true},{"row":"Seeing","slot":79,"tone":"c9"},{"row":"Seeing","slot":80,"tone":"c9","joined":true},{"row":"Seeing","slot":81,"tone":"c9"},
{"row":"Dark","slot":0,"tone":"d0"},{"row":"Dark","slot":1,"tone":"d0"},{"row":"Dark","slot":2,"tone":"d0"},{"row":"Dark","slot":3,"tone":"d0"},{"row":"Dark","slot":4,"tone":"d0"},{"row":"Dark","slot":5,"tone":"d1"},{"row":"Dark","slot":6,"tone":"d2"},{"row":"Dark","slot":9,"tone":"d7"},{"row":"Dark","slot":11,"tone":"d10"},{"row":"Dark","slot":12,"tone":"d10"},{"row":"Dark","slot":13,"tone":"d10"},{"row":"Dark","slot":14,"tone":"d10"},{"row":"Dark","slot":15,"tone":"d10"},{"row":"Dark","slot":16,"tone":"d10"},{"row":"Dark","slot":18,"tone":"d7"},{"row":"Dark","slot":21,"tone":"d2"},{"row":"Dark","slot":22,"tone":"d1"},{"row":"Dark","slot":23,"tone":"d0"},{"row":"Dark","slot":24,"tone":"d0"},{"row":"Dark","slot":25,"tone":"d0"},{"row":"Dark","slot":26,"tone":"d0"},{"row":"Dark","slot":27,"tone":"d0"},{"row":"Dark","slot":28,"tone":"d0"},{"row":"Dark","slot":29,"tone":"d1"},{"row":"Dark","slot":30,"tone":"d2"},{"row":"Dark","slot":33,"tone":"d7"},{"row":"Dark","slot":35,"tone":"d10"},{"row":"Dark","slot":36,"tone":"d10"},{"row":"Dark","slot":37,"tone":"d10"},{"row":"Dark","slot":38,"tone":"d10"},{"row":"Dark","slot":39,"tone":"d10"},{"row":"Dark","slot":40,"tone":"d10"},{"row":"Dark","slot":42,"tone":"d7"},{"row":"Dark","slot":45,"tone":"d2"},{"row":"Dark","slot":46,"tone":"d1"},{"row":"Dark","slot":47,"tone":"d0"},{"row":"Dark","slot":48,"tone":"d0"},{"row":"Dark","slot":49,"tone":"d0"},{"row":"Dark","slot":50,"tone":"d0"},{"row":"Dark","slot":51,"tone":"d0"},{"row":"Dark","slot":52,"tone":"d0"},{"row":"Dark","slot":53,"tone":"d1"},{"row":"Dark","slot":54,"tone":"d2"},{"row":"Dark","slot":57,"tone":"d7"},{"row":"Dark","slot":59,"tone":"d10"},{"row":"Dark","slot":60,"tone":"d10"},{"row":"Dark","slot":61,"tone":"d10"},{"row":"Dark","slot":62,"tone":"d10"},{"row":"Dark","slot":63,"tone":"d10"},{"row":"Dark","slot":64,"tone":"d10"},{"row":"Dark","slot":66,"tone":"d7"},{"row":"Dark","slot":69,"tone":"d2"},{"row":"Dark","slot":70,"tone":"d1"},{"row":"Dark","slot":71,"tone":"d0"},{"row":"Dark","slot":72,"tone":"d0"},{"row":"Dark","slot":73,"tone":"d0"},{"row":"Dark","slot":74,"tone":"d0"},{"row":"Dark","slot":75,"tone":"d0"},{"row":"Dark","slot":76,"tone":"d0"},{"row":"Dark","slot":77,"tone":"d1"},{"row":"Dark","slot":78,"tone":"d2"},{"row":"Dark","slot":81,"tone":"d7"},
{"row":"Smoke","slot":0,"tone":"c0"},{"row":"Smoke","slot":1,"tone":"c0"},{"row":"Smoke","slot":2,"tone":"c0"},{"row":"Smoke","slot":3,"tone":"c0"},{"row":"Smoke","slot":4,"tone":"c0"},{"row":"Smoke","slot":5,"tone":"c0"},{"row":"Smoke","slot":6,"tone":"c0"},{"row":"Smoke","slot":7,"tone":"c0"},{"row":"Smoke","slot":8,"tone":"c0"},{"row":"Smoke","slot":9,"tone":"c0"},{"row":"Smoke","slot":10,"tone":"c0"},{"row":"Smoke","slot":11,"tone":"c0"},{"row":"Smoke","slot":12,"tone":"c0"},{"row":"Smoke","slot":13,"tone":"c0"},{"row":"Smoke","slot":14,"tone":"c0"},{"row":"Smoke","slot":15,"tone":"c0"},{"row":"Smoke","slot":16,"tone":"c0"},{"row":"Smoke","slot":17,"tone":"c0"},{"row":"Smoke","slot":18,"tone":"c0"},{"row":"Smoke","slot":19,"tone":"c0"},{"row":"Smoke","slot":20,"tone":"c0"},{"row":"Smoke","slot":21,"tone":"c0"},{"row":"Smoke","slot":22,"tone":"c0"},{"row":"Smoke","slot":23,"tone":"c0"},{"row":"Smoke","slot":24,"tone":"c0"},{"row":"Smoke","slot":25,"tone":"c0"},{"row":"Smoke","slot":26,"tone":"c0"},{"row":"Smoke","slot":27,"tone":"c0"},{"row":"Smoke","slot":28,"tone":"c0"},{"row":"Smoke","slot":29,"tone":"c0"},{"row":"Smoke","slot":30,"tone":"c0"},{"row":"Smoke","slot":31,"tone":"c0"},{"row":"Smoke","slot":32,"tone":"c0"},{"row":"Smoke","slot":33,"tone":"c0"},{"row":"Smoke","slot":34,"tone":"c0"},{"row":"Smoke","slot":35,"tone":"c0"},{"row":"Smoke","slot":36,"tone":"c0"},{"row":"Smoke","slot":37,"tone":"c0"},{"row":"Smoke","slot":38,"tone":"c0"},{"row":"Smoke","slot":39,"tone":"c0"},{"row":"Smoke","slot":40,"tone":"c0"},{"row":"Smoke","slot":41,"tone":"c0"},{"row":"Smoke","slot":42,"tone":"c0"},{"row":"Smoke","slot":43,"tone":"c0"},{"row":"Smoke","slot":44,"tone":"c0"},{"row":"Smoke","slot":45,"tone":"c0"},{"row":"Smoke","slot":46,"tone":"c0"},{"row":"Smoke","slot":47,"tone":"c0"},{"row":"Smoke","slot":48,"tone":"c0"},{"row":"Smoke","slot":49,"tone":"c0"},{"row":"Smoke","slot":50,"tone":"c0"},{"row":"Smoke","slot":51,"tone":"c0"},{"row":"Smoke","slot":52,"tone":"c0"},{"row":"Smoke","slot":53,"tone":"c0"},{"row":"Smoke","slot":54,"tone":"c0"},{"row":"Smoke","slot":55,"tone":"c0"},{"row":"Smoke","slot":56,"tone":"c0"},{"row":"Smoke","slot":57,"tone":"c0"},
{"row":"Wind","slot":0,"tone":"c0"},{"row":"Wind","slot":1,"tone":"c0"},{"row":"Wind","slot":2,"tone":"c0"},{"row":"Wind","slot":3,"tone":"c2"},{"row":"Wind","slot":4,"tone":"c2"},{"row":"Wind","slot":5,"tone":"c2"},{"row":"Wind","slot":6,"tone":"c0"},{"row":"Wind","slot":7,"tone":"c0"},{"row":"Wind","slot":8,"tone":"c0"},{"row":"Wind","slot":9,"tone":"c0"},{"row":"Wind","slot":10,"tone":"c0"},{"row":"Wind","slot":11,"tone":"c2"},{"row":"Wind","slot":12,"tone":"c2"},{"row":"Wind","slot":13,"tone":"c2"},{"row":"Wind","slot":14,"tone":"c2"},{"row":"Wind","slot":15,"tone":"c2"},{"row":"Wind","slot":16,"tone":"c2"},{"row":"Wind","slot":17,"tone":"c2"},{"row":"Wind","slot":18,"tone":"c2"},{"row":"Wind","slot":19,"tone":"c2"},{"row":"Wind","slot":20,"tone":"c2"},{"row":"Wind","slot":21,"tone":"c5"},{"row":"Wind","slot":22,"tone":"c5"},{"row":"Wind","slot":23,"tone":"c5"},{"row":"Wind","slot":24,"tone":"c5"},{"row":"Wind","slot":25,"tone":"c5"},{"row":"Wind","slot":26,"tone":"c5"},{"row":"Wind","slot":27,"tone":"c5"},{"row":"Wind","slot":28,"tone":"c5"},{"row":"Wind","slot":29,"tone":"c2"},{"row":"Wind","slot":30,"tone":"c2"},{"row":"Wind","slot":31,"tone":"c2"},{"row":"Wind","slot":32,"tone":"c2"},{"row":"Wind","slot":33,"tone":"c2"},{"row":"Wind","slot":34,"tone":"c2"},{"row":"Wind","slot":35,"tone":"c2"},{"row":"Wind","slot":36,"tone":"c2"},{"row":"Wind","slot":37,"tone":"c2"},{"row":"Wind","slot":38,"tone":"c2"},{"row":"Wind","slot":39,"tone":"c2"},{"row":"Wind","slot":40,"tone":"c2"},{"row":"Wind","slot":41,"tone":"c2"},{"row":"Wind","slot":42,"tone":"c2"},{"row":"Wind","slot":43,"tone":"c2"},{"row":"Wind","slot":44,"tone":"c0"},{"row":"Wind","slot":45,"tone":"c0"},{"row":"Wind","slot":46,"tone":"c0"},{"row":"Wind","slot":47,"tone":"c2"},{"row":"Wind","slot":48,"tone":"c2"},{"row":"Wind","slot":49,"tone":"c2"},{"row":"Wind","slot":50,"tone":"c2"},{"row":"Wind","slot":51,"tone":"c2"},{"row":"Wind","slot":52,"tone":"c2"},{"row":"Wind","slot":53,"tone":"c2"},{"row":"Wind","slot":54,"tone":"c2"},{"row":"Wind","slot":55,"tone":"c2"},{"row":"Wind","slot":56,"tone":"c2"},{"row":"Wind","slot":57,"tone":"c2"},{"row":"Wind","slot":58,"tone":"c2"},{"row":"Wind","slot":59,"tone":"c2"},{"row":"Wind","slot":60,"tone":"c2"},{"row":"Wind","slot":61,"tone":"c2"},{"row":"Wind","slot":62,"tone":"c0"},{"row":"Wind","slot":63,"tone":"c0"},{"row":"Wind","slot":64,"tone":"c0"},{"row":"Wind","slot":65,"tone":"c0"},{"row":"Wind","slot":66,"tone":"c0"},{"row":"Wind","slot":67,"tone":"c0"},{"row":"Wind","slot":68,"tone":"c0"},{"row":"Wind","slot":69,"tone":"c0"},{"row":"Wind","slot":70,"tone":"c0"},{"row":"Wind","slot":71,"tone":"c0"},{"row":"Wind","slot":72,"tone":"c0"},{"row":"Wind","slot":73,"tone":"c2"},{"row":"Wind","slot":74,"tone":"c2"},{"row":"Wind","slot":75,"tone":"c2"},{"row":"Wind","slot":76,"tone":"c2"},{"row":"Wind","slot":77,"tone":"c2"},{"row":"Wind","slot":78,"tone":"c2"},{"row":"Wind","slot":79,"tone":"c2"},{"row":"Wind","slot":80,"tone":"c2"},{"row":"Wind","slot":81,"tone":"c2"},
{"row":"Humid","slot":0,"tone":"hD"},{"row":"Humid","slot":1,"tone":"hD"},{"row":"Humid","slot":2,"tone":"hC"},{"row":"Humid","slot":3,"tone":"hC"},{"row":"Humid","slot":4,"tone":"hB"},{"row":"Humid","slot":5,"tone":"hA"},{"row":"Humid","slot":6,"tone":"hA"},{"row":"Humid","slot":7,"tone":"hB"},{"row":"Humid","slot":8,"tone":"hE"},{"row":"Humid","slot":9,"tone":"hE"},{"row":"Humid","slot":10,"tone":"hF"},{"row":"Humid","slot":11,"tone":"hG"},{"row":"Humid","slot":12,"tone":"hI"},{"row":"Humid","slot":13,"tone":"hK"},{"row":"Humid","slot":14,"tone":"hK"},{"row":"Humid","slot":15,"tone":"hJ"},{"row":"Humid","slot":16,"tone":"hJ"},{"row":"Humid","slot":17,"tone":"hK"},{"row":"Humid","slot":18,"tone":"hK"},{"row":"Humid","slot":19,"tone":"hK"},{"row":"Humid","slot":20,"tone":"hK"},{"row":"Humid","slot":21,"tone":"hJ"},{"row":"Humid","slot":22,"tone":"hI"},{"row":"Humid","slot":23,"tone":"hG"},{"row":"Humid","slot":24,"tone":"hF"},{"row":"Humid","slot":25,"tone":"hE"},{"row":"Humid","slot":26,"tone":"hD"},{"row":"Humid","slot":27,"tone":"hC"},{"row":"Humid","slot":28,"tone":"hB"},{"row":"Humid","slot":29,"tone":"hB"},{"row":"Humid","slot":30,"tone":"hC"},{"row":"Humid","slot":31,"tone":"hC"},{"row":"Humid","slot":32,"tone":"hD"},{"row":"Humid","slot":33,"tone":"hD"},{"row":"Humid","slot":34,"tone":"hE"},{"row":"Humid","slot":35,"tone":"hF"},{"row":"Humid","slot":36,"tone":"hG"},{"row":"Humid","slot":37,"tone":"hH"},{"row":"Humid","slot":38,"tone":"hI"},{"row":"Humid","slot":39,"tone":"hI"},{"row":"Humid","slot":40,"tone":"hI"},{"row":"Humid","slot":41,"tone":"hJ"},{"row":"Humid","slot":42,"tone":"hJ"},{"row":"Humid","slot":43,"tone":"hJ"},{"row":"Humid","slot":44,"tone":"hJ"},{"row":"Humid","slot":45,"tone":"hH"},{"row":"Humid","slot":46,"tone":"hF"},{"row":"Humid","slot":47,"tone":"hE"},{"row":"Humid","slot":48,"tone":"hD"},{"row":"Humid","slot":49,"tone":"hB"},{"row":"Humid","slot":50,"tone":"hB"},{"row":"Humid","slot":51,"tone":"hB"},{"row":"Humid","slot":52,"tone":"hB"},{"row":"Humid","slot":53,"tone":"hB"},{"row":"Humid","slot":54,"tone":"hB"},{"row":"Humid","slot":55,"tone":"hB"},{"row":"Humid","slot":56,"tone":"hD"},{"row":"Humid","slot":57,"tone":"hD"},{"row":"Humid","slot":58,"tone":"hE"},{"row":"Humid","slot":59,"tone":"hF"},{"row":"Humid","slot":60,"tone":"hG"},{"row":"Humid","slot":61,"tone":"hH"},{"row":"Humid","slot":62,"tone":"hH"},{"row":"Humid","slot":63,"tone":"hI"},{"row":"Humid","slot":64,"tone":"hI"},{"row":"Humid","slot":65,"tone":"hJ"},{"row":"Humid","slot":66,"tone":"hJ"},{"row":"Humid","slot":67,"tone":"hJ"},{"row":"Humid","slot":68,"tone":"hI"},{"row":"Humid","slot":69,"tone":"hH"},{"row":"Humid","slot":70,"tone":"hG"},{"row":"Humid","slot":71,"tone":"hE"},{"row":"Humid","slot":72,"tone":"hD"},{"row":"Humid","slot":73,"tone":"hC"},{"row":"Humid","slot":74,"tone":"hC"},{"row":"Humid","slot":75,"tone":"hB"},{"row":"Humid","slot":76,"tone":"hB"},{"row":"Humid","slot":77,"tone":"hB"},{"row":"Humid","slot":78,"tone":"hB"},{"row":"Humid","slot":79,"tone":"hC"},{"row":"Humid","slot":80,"tone":"hF"},{"row":"Humid","slot":81,"tone":"hJ"},
{"row":"Temp","slot":0,"tone":"tP"},{"row":"Temp","slot":1,"tone":"tR"},{"row":"Temp","slot":2,"tone":"tR"},{"row":"Temp","slot":3,"tone":"tR"},{"row":"Temp","slot":4,"tone":"tR"},{"row":"Temp","slot":5,"tone":"tR"},{"row":"Temp","slot":6,"tone":"tR"},{"row":"Temp","slot":7,"tone":"tR"},{"row":"Temp","slot":8,"tone":"tP"},{"row":"Temp","slot":9,"tone":"tP"},{"row":"Temp","slot":10,"tone":"tP"},{"row":"Temp","slot":11,"tone":"tP"},{"row":"Temp","slot":12,"tone":"tP"},{"row":"Temp","slot":13,"tone":"tO"},{"row":"Temp","slot":14,"tone":"tO"},{"row":"Temp","slot":15,"tone":"tO"},{"row":"Temp","slot":16,"tone":"tO"},{"row":"Temp","slot":17,"tone":"tO"},{"row":"Temp","slot":18,"tone":"tO"},{"row":"Temp","slot":19,"tone":"tO"},{"row":"Temp","slot":20,"tone":"tO"},{"row":"Temp","slot":21,"tone":"tO"},{"row":"Temp","slot":22,"tone":"tP"},{"row":"Temp","slot":23,"tone":"tP"},{"row":"Temp","slot":24,"tone":"tP"},{"row":"Temp","slot":25,"tone":"tP"},{"row":"Temp","slot":26,"tone":"tP"},{"row":"Temp","slot":27,"tone":"tP"},{"row":"Temp","slot":28,"tone":"tP"},{"row":"Temp","slot":29,"tone":"tP"},{"row":"Temp","slot":30,"tone":"tP"},{"row":"Temp","slot":31,"tone":"tP"},{"row":"Temp","slot":32,"tone":"tP"},{"row":"Temp","slot":33,"tone":"tP"},{"row":"Temp","slot":34,"tone":"tO"},{"row":"Temp","slot":35,"tone":"tO"},{"row":"Temp","slot":36,"tone":"tO"},{"row":"Temp","slot":37,"tone":"tO"},{"row":"Temp","slot":38,"tone":"tO"},{"row":"Temp","slot":39,"tone":"tO"},{"row":"Temp","slot":40,"tone":"tO"},{"row":"Temp","slot":41,"tone":"tO"},{"row":"Temp","slot":42,"tone":"tO"},{"row":"Temp","slot":43,"tone":"tY"},{"row":"Temp","slot":44,"tone":"tO"},{"row":"Temp","slot":45,"tone":"tO"},{"row":"Temp","slot":46,"tone":"tP"},{"row":"Temp","slot":47,"tone":"tP"},{"row":"Temp","slot":48,"tone":"tP"},{"row":"Temp","slot":49,"tone":"tP"},{"row":"Temp","slot":50,"tone":"tP"},{"row":"Temp","slot":51,"tone":"tR"},{"row":"Temp","slot":52,"tone":"tP"},{"row":"Temp","slot":53,"tone":"tP"},{"row":"Temp","slot":54,"tone":"tP"},{"row":"Temp","slot":55,"tone":"tP"},{"row":"Temp","slot":56,"tone":"tP"},{"row":"Temp","slot":57,"tone":"tP"},{"row":"Temp","slot":58,"tone":"tO"},{"row":"Temp","slot":59,"tone":"tO"},{"row":"Temp","slot":60,"tone":"tO"},{"row":"Temp","slot":61,"tone":"tO"},{"row":"Temp","slot":62,"tone":"tO"},{"row":"Temp","slot":63,"tone":"tY"},{"row":"Temp","slot":64,"tone":"tY"},{"row":"Temp","slot":65,"tone":"tY"},{"row":"Temp","slot":66,"tone":"tY"},{"row":"Temp","slot":67,"tone":"tY"},{"row":"Temp","slot":68,"tone":"tY"},{"row":"Temp","slot":69,"tone":"tO"},{"row":"Temp","slot":70,"tone":"tO"},{"row":"Temp","slot":71,"tone":"tP"},{"row":"Temp","slot":72,"tone":"tP"},{"row":"Temp","slot":73,"tone":"tP"},{"row":"Temp","slot":74,"tone":"tR"},{"row":"Temp","slot":75,"tone":"tR"},{"row":"Temp","slot":76,"tone":"tR"},{"row":"Temp","slot":77,"tone":"tR"},{"row":"Temp","slot":78,"tone":"tR"},{"row":"Temp","slot":79,"tone":"tP"},{"row":"Temp","slot":80,"tone":"tP"},{"row":"Temp","slot":81,"tone":"tO"}
],
"strips":[
{"slot":7,"part":0,"tone":"d2"},{"slot":7,"part":1,"tone":"d3"},{"slot":7,"part":2,"tone":"d3"},{"slot":7,"part":3,"tone":"d4"},{"slot":8,"part":0,"tone":"d4"},{"slot":8,"part":1,"tone":"d5"},{"slot":8,"part":2,"tone":"d5"},{"slot":8,"part":3,"tone":"d6"},{"slot":10,"part":0,"tone":"d7"},{"slot":10,"part":1,"tone":"d8"},{"slot":10,"part":2,"tone":"d9"},{"slot":10,"part":3,"tone":"d10"},{"slot":17,"part":0,"tone":"d10"},{"slot":17,"part":1,"tone":"d9"},{"slot":17,"part":2,"tone":"d8"},{"slot":17,"part":3,"tone":"d7"},{"slot":19,"part":0,"tone":"d6"},{"slot":19,"part":1,"tone":"d5"},{"slot":19,"part":2,"tone":"d4"},{"slot":19,"part":3,"tone":"d3"},{"slot":20,"part":0,"tone":"d3"},{"slot":20,"part":1,"tone":"d3"},{"slot":20,"part":2,"tone":"d2"},{"slot":20,"part":3,"tone":"d2"},
{"slot":31,"part":0,"tone":"d2"},{"slot":31,"part":1,"tone":"d3"},{"slot":31,"part":2,"tone":"d3"},{"slot":31,"part":3,"tone":"d4"},{"slot":32,"part":0,"tone":"d4"},{"slot":32,"part":1,"tone":"d5"},{"slot":32,"part":2,"tone":"d5"},{"slot":32,"part":3,"tone":"d6"},{"slot":34,"part":0,"tone":"d7"},{"slot":34,"part":1,"tone":"d8"},{"slot":34,"part":2,"tone":"d9"},{"slot":34,"part":3,"tone":"d10"},{"slot":41,"part":0,"tone":"d10"},{"slot":41,"part":1,"tone":"d9"},{"slot":41,"part":2,"tone":"d8"},{"slot":41,"part":3,"tone":"d7"},{"slot":43,"part":0,"tone":"d6"},{"slot":43,"part":1,"tone":"d5"},{"slot":43,"part":2,"tone":"d4"},{"slot":43,"part":3,"tone":"d3"},{"slot":44,"part":0,"tone":"d3"},{"slot":44,"part":1,"tone":"d3"},{"slot":44,"part":2,"tone":"d2"},{"slot":44,"part":3,"tone":"d2"},
{"slot":55,"part":0,"tone":"d2"},{"slot":55,"part":1,"tone":"d3"},{"slot":55,"part":2,"tone":"d3"},{"slot":55,"part":3,"tone":"d4"},{"slot":56,"part":0,"tone":"d4"},{"slot":56,"part":1,"tone":"d5"},{"slot":56,"part":2,"tone":"d5"},{"slot":56,"part":3,"tone":"d6"},{"slot":58,"part":0,"tone":"d7"},{"slot":58,"part":1,"tone":"d8"},{"slot":58,"part":2,"tone":"d9"},{"slot":58,"part":3,"tone":"d10"},{"slot":65,"part":0,"tone":"d10"},{"slot":65,"part":1,"tone":"d9"},{"slot":65,"part":2,"tone":"d8"},{"slot":65,"part":3,"tone":"d7"},{"slot":67,"part":0,"tone":"d6"},{"slot":67,"part":1,"tone":"d5"},{"slot":67,"part":2,"tone":"d4"},{"slot":67,"part":3,"tone":"d3"},{"slot":68,"part":0,"tone":"d3"},{"slot":68,"part":1,"tone":"d3"},{"slot":68,"part":2,"tone":"d2"},{"slot":68,"part":3,"tone":"d2"},
{"slot":79,"part":0,"tone":"d2"},{"slot":79,"part":1,"tone":"d3"},{"slot":79,"part":2,"tone":"d3"},{"slot":79,"part":3,"tone":"d4"},{"slot":80,"part":0,"tone":"d4"},{"slot":80,"part":1,"tone":"d5"},{"slot":80,"part":2,"tone":"d5"},{"slot":80,"part":3,"tone":"d6"}
],
"extCells":[
{"row":"ECMWF","slot":0,"tone":"c1","joined":true},{"row":"ECMWF","slot":1,"tone":"c1"},{"row":"ECMWF","slot":2,"tone":"c1","joined":true},{"row":"ECMWF","slot":3,"tone":"c1"},{"row":"ECMWF","slot":4,"tone":"c5","joined":true},{"row":"ECMWF","slot":5,"tone":"c5"},{"row":"ECMWF","slot":6,"tone":"c1","joined":true},{"row":"ECMWF","slot":7,"tone":"c1"},{"row":"ECMWF","slot":8,"tone":"c1","joined":true},{"row":"ECMWF","slot":9,"tone":"c1"},{"row":"ECMWF","slot":10,"tone":"c1","joined":true},{"row":"ECMWF","slot":11,"tone":"c1"},{"row":"ECMWF","slot":12,"tone":"c0","joined":true},{"row":"ECMWF","slot":13,"tone":"c0"},{"row":"ECMWF","slot":14,"tone":"c11","joined":true},{"row":"ECMWF","slot":15,"tone":"c11"},{"row":"ECMWF","slot":16,"tone":"c9","joined":true},{"row":"ECMWF","slot":17,"tone":"c9"},{"row":"ECMWF","slot":18,"tone":"c5","joined":true},{"row":"ECMWF","slot":19,"tone":"c5"},{"row":"ECMWF","slot":20,"tone":"c11","joined":true},{"row":"ECMWF","slot":21,"tone":"c11"},{"row":"ECMWF","slot":22,"tone":"c11","joined":true},{"row":"ECMWF","slot":23,"tone":"c11"},{"row":"ECMWF","slot":24,"tone":"c11","joined":true},{"row":"ECMWF","slot":25,"tone":"c11"},{"row":"ECMWF","slot":26,"tone":"c7","joined":true},{"row":"ECMWF","slot":27,"tone":"c7"},{"row":"ECMWF","slot":28,"tone":"c6","joined":true},{"row":"ECMWF","slot":29,"tone":"c6"},{"row":"ECMWF","slot":30,"tone":"c9","joined":true},{"row":"ECMWF","slot":31,"tone":"c9"},{"row":"ECMWF","slot":32,"tone":"c0","joined":true},{"row":"ECMWF","slot":33,"tone":"c0"},{"row":"ECMWF","slot":34,"tone":"c0","joined":true},{"row":"ECMWF","slot":35,"tone":"c0"},{"row":"ECMWF","slot":36,"tone":"c0","joined":true},{"row":"ECMWF","slot":37,"tone":"c0"},{"row":"ECMWF","slot":38,"tone":"c0","joined":true},{"row":"ECMWF","slot":39,"tone":"c0"},{"row":"ECMWF","slot":40,"tone":"c1","joined":true},{"row":"ECMWF","slot":41,"tone":"c1"},{"row":"ECMWF","slot":42,"tone":"c0","joined":true},{"row":"ECMWF","slot":43,"tone":"c0"},{"row":"ECMWF","slot":44,"tone":"c6","joined":true},{"row":"ECMWF","slot":45,"tone":"c6"},{"row":"ECMWF","slot":46,"tone":"c11","joined":true},{"row":"ECMWF","slot":47,"tone":"c11"},
{"row":"Dark","slot":0,"tone":"d10"},{"row":"Dark","slot":3,"tone":"d1"},{"row":"Dark","slot":4,"tone":"d0"},{"row":"Dark","slot":5,"tone":"d0"},{"row":"Dark","slot":8,"tone":"d10"},{"row":"Dark","slot":11,"tone":"d1"},{"row":"Dark","slot":12,"tone":"d0"},{"row":"Dark","slot":13,"tone":"d0"},{"row":"Dark","slot":16,"tone":"d10"},{"row":"Dark","slot":19,"tone":"d1"},{"row":"Dark","slot":20,"tone":"d0"},{"row":"Dark","slot":21,"tone":"d0"},{"row":"Dark","slot":24,"tone":"d10"},{"row":"Dark","slot":27,"tone":"d1"},{"row":"Dark","slot":28,"tone":"d0"},{"row":"Dark","slot":29,"tone":"d0"},{"row":"Dark","slot":32,"tone":"d10"},{"row":"Dark","slot":35,"tone":"d1"},{"row":"Dark","slot":36,"tone":"d0"},{"row":"Dark","slot":37,"tone":"d0"},{"row":"Dark","slot":40,"tone":"d10"},{"row":"Dark","slot":43,"tone":"d1"},{"row":"Dark","slot":44,"tone":"d0"},{"row":"Dark","slot":45,"tone":"d0"}
],
"extStrips":[
{"slot":1,"part":0,"tone":"d10"},{"slot":1,"part":1,"tone":"d10"},{"slot":1,"part":2,"tone":"d9"},{"slot":1,"part":3,"tone":"d9"},{"slot":2,"part":0,"tone":"d7"},{"slot":2,"part":1,"tone":"d6"},{"slot":2,"part":2,"tone":"d5"},{"slot":2,"part":3,"tone":"d3"},{"slot":6,"part":0,"tone":"d2"},{"slot":6,"part":1,"tone":"d3"},{"slot":6,"part":2,"tone":"d4"},{"slot":6,"part":3,"tone":"d5"},{"slot":7,"part":0,"tone":"d7"},{"slot":7,"part":1,"tone":"d7"},{"slot":7,"part":2,"tone":"d8"},{"slot":7,"part":3,"tone":"d9"},
{"slot":9,"part":0,"tone":"d10"},{"slot":9,"part":1,"tone":"d10"},{"slot":9,"part":2,"tone":"d9"},{"slot":9,"part":3,"tone":"d9"},{"slot":10,"part":0,"tone":"d7"},{"slot":10,"part":1,"tone":"d6"},{"slot":10,"part":2,"tone":"d5"},{"slot":10,"part":3,"tone":"d3"},{"slot":14,"part":0,"tone":"d2"},{"slot":14,"part":1,"tone":"d3"},{"slot":14,"part":2,"tone":"d4"},{"slot":14,"part":3,"tone":"d5"},{"slot":15,"part":0,"tone":"d7"},{"slot":15,"part":1,"tone":"d7"},{"slot":15,"part":2,"tone":"d8"},{"slot":15,"part":3,"tone":"d9"},
{"slot":17,"part":0,"tone":"d10"},{"slot":17,"part":1,"tone":"d10"},{"slot":17,"part":2,"tone":"d9"},{"slot":17,"part":3,"tone":"d9"},{"slot":18,"part":0,"tone":"d7"},{"slot":18,"part":1,"tone":"d6"},{"slot":18,"part":2,"tone":"d5"},{"slot":18,"part":3,"tone":"d3"},{"slot":22,"part":0,"tone":"d2"},{"slot":22,"part":1,"tone":"d3"},{"slot":22,"part":2,"tone":"d4"},{"slot":22,"part":3,"tone":"d5"},{"slot":23,"part":0,"tone":"d7"},{"slot":23,"part":1,"tone":"d7"},{"slot":23,"part":2,"tone":"d8"},{"slot":23,"part":3,"tone":"d9"},
{"slot":25,"part":0,"tone":"d10"},{"slot":25,"part":1,"tone":"d10"},{"slot":25,"part":2,"tone":"d9"},{"slot":25,"part":3,"tone":"d9"},{"slot":26,"part":0,"tone":"d7"},{"slot":26,"part":1,"tone":"d6"},{"slot":26,"part":2,"tone":"d5"},{"slot":26,"part":3,"tone":"d3"},{"slot":30,"part":0,"tone":"d2"},{"slot":30,"part":1,"tone":"d3"},{"slot":30,"part":2,"tone":"d4"},{"slot":30,"part":3,"tone":"d5"},{"slot":31,"part":0,"tone":"d7"},{"slot":31,"part":1,"tone":"d7"},{"slot":31,"part":2,"tone":"d8"},{"slot":31,"part":3,"tone":"d9"},
{"slot":33,"part":0,"tone":"d10"},{"slot":33,"part":1,"tone":"d10"},{"slot":33,"part":2,"tone":"d9"},{"slot":33,"part":3,"tone":"d9"},{"slot":34,"part":0,"tone":"d7"},{"slot":34,"part":1,"tone":"d6"},{"slot":34,"part":2,"tone":"d5"},{"slot":34,"part":3,"tone":"d3"},{"slot":38,"part":0,"tone":"d2"},{"slot":38,"part":1,"tone":"d3"},{"slot":38,"part":2,"tone":"d4"},{"slot":38,"part":3,"tone":"d5"},{"slot":39,"part":0,"tone":"d7"},{"slot":39,"part":1,"tone":"d7"},{"slot":39,"part":2,"tone":"d8"},{"slot":39,"part":3,"tone":"d9"},
{"slot":41,"part":0,"tone":"d10"},{"slot":41,"part":1,"tone":"d10"},{"slot":41,"part":2,"tone":"d9"},{"slot":41,"part":3,"tone":"d9"},{"slot":42,"part":0,"tone":"d7"},{"slot":42,"part":1,"tone":"d6"},{"slot":42,"part":2,"tone":"d5"},{"slot":42,"part":3,"tone":"d3"},{"slot":46,"part":0,"tone":"d2"},{"slot":46,"part":1,"tone":"d3"},{"slot":46,"part":2,"tone":"d4"},{"slot":46,"part":3,"tone":"d5"},{"slot":47,"part":0,"tone":"d7"},{"slot":47,"part":1,"tone":"d7"},{"slot":47,"part":2,"tone":"d8"},{"slot":47,"part":3,"tone":"d9"}
]
}
}
